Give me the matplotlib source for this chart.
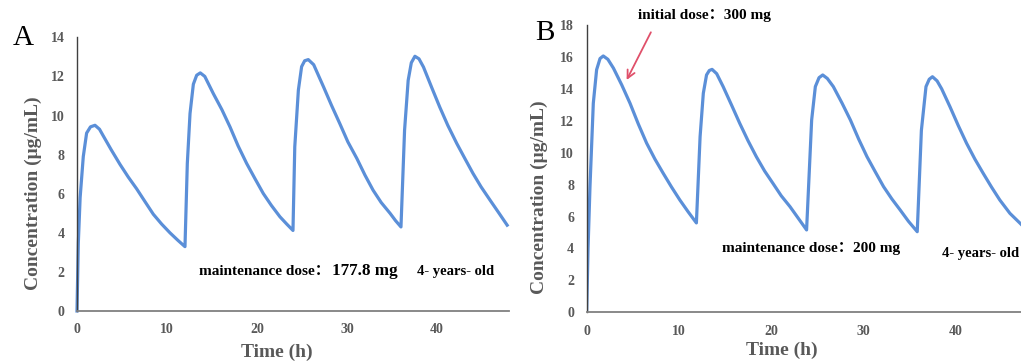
import matplotlib
matplotlib.use("Agg")
import matplotlib.pyplot as plt

# ---------------- data ----------------
time_a = [0, 0.15, 0.35, 0.7, 1.07, 1.5, 2.0, 2.5, 2.93, 3.8, 4.78, 5.7, 6.63, 7.55, 8.48, 9.4, 10.33, 11.2, 12.0,
          12.26, 12.56, 12.93, 13.3, 13.7, 14.2, 15.15, 16.1, 17.0, 17.9, 18.85, 19.8, 20.7, 21.6, 22.55, 23.3, 24.0,
          24.2, 24.6, 24.96, 25.3, 25.7, 26.3, 27.4, 28.3, 29.2, 30.1, 31.1, 32.0, 32.9, 33.8, 34.8, 35.4, 36.0,
          36.4, 36.8, 37.15, 37.55, 38.0, 38.5, 39.4, 40.3, 41.2, 42.2, 43.1, 44.0, 44.9, 45.9, 46.9, 47.8]
conc_a = [0, 3.5, 5.8, 7.9, 9.1, 9.42, 9.5, 9.3, 8.95, 8.25, 7.5, 6.85, 6.25, 5.6, 4.95, 4.45, 4.0, 3.62, 3.29,
          7.55, 10.1, 11.6, 12.06, 12.18, 12.0, 11.12, 10.3, 9.42, 8.45, 7.55, 6.75, 6.01, 5.4, 4.82, 4.45, 4.12,
          8.4, 11.3, 12.5, 12.8, 12.86, 12.6, 11.46, 10.5, 9.59, 8.65, 7.8, 6.95, 6.18, 5.55, 4.99, 4.62, 4.3,
          9.25, 11.8, 12.7, 13.03, 12.9, 12.48, 11.45, 10.44, 9.5, 8.57, 7.8, 7.04, 6.35, 5.67, 5.0, 4.39]

time_b = [0, 0.15, 0.36, 0.72, 1.08, 1.45, 1.8, 2.3, 2.9, 3.8, 4.7, 5.6, 6.5, 7.4, 8.3, 9.2, 10.1, 11.0, 11.9,
          12.3, 12.65, 13.0, 13.3, 13.6, 14.1, 14.8, 15.7, 16.6, 17.5, 18.4, 19.3, 20.2, 21.1, 22.05, 23.0, 23.85,
          24.4, 24.8, 25.2, 25.6, 26.1, 26.75, 27.7, 28.6, 29.5, 30.4, 31.3, 32.2, 33.1, 34.0, 34.9, 35.85,
          36.3, 36.8, 37.15, 37.5, 38.0, 38.5, 39.4, 40.3, 41.2, 42.1, 43.0, 43.9, 44.8, 45.9, 47.0, 48.0]
conc_b = [0, 4.0, 7.87, 13.1, 15.2, 15.9, 16.06, 15.85, 15.3, 14.25, 13.1, 11.8, 10.6, 9.6, 8.71, 7.85, 7.04, 6.3, 5.6,
          11.0, 13.72, 14.87, 15.15, 15.22, 14.95, 14.14, 13.0, 11.84, 10.75, 9.75, 8.85, 8.08, 7.3, 6.62, 5.85, 5.16,
          12.05, 14.14, 14.7, 14.87, 14.65, 14.14, 13.1, 12.05, 10.85, 9.75, 8.8, 7.87, 7.1, 6.41, 5.7, 5.05,
          11.4, 14.14, 14.6, 14.76, 14.5, 14.0, 12.88, 11.7, 10.59, 9.6, 8.71, 7.85, 7.04, 6.2, 5.58, 5.0]

xticks = [0, 10, 20, 30, 40]
yticks_a = [0, 2, 4, 6, 8, 10, 12, 14]
yticks_b = [0, 2, 4, 6, 8, 10, 12, 14, 16, 18]

# ---------------- styling ----------------
SERIF = ['Liberation Serif', 'DejaVu Serif']
SERIF_CJK = ['Liberation Serif', 'Noto Sans CJK SC', 'DejaVu Serif']
LINE_COLOR = '#5b8fd8'
TICK_COLOR = '#595959'
plt.rcParams['font.family'] = SERIF

fig = plt.figure(figsize=(10.21, 3.63), dpi=100)
ax_a = fig.add_axes([0.0754, 0.1433, 0.4231, 0.7539])
ax_b = fig.add_axes([0.5746, 0.1397, 0.4335, 0.7914])


def style(ax, yticks, xlab_pos, ylab_pos):
    ax.set_xlim(0, 48)
    ax.set_ylim(0, yticks[-1])
    ax.set_xticks(xticks)
    ax.set_yticks(yticks)
    for s in ('top', 'right'):
        ax.spines[s].set_visible(False)
    ax.spines['left'].set_color('#404040')
    ax.spines['left'].set_linewidth(1.0)
    ax.spines['bottom'].set_color('#808080')
    ax.spines['bottom'].set_linewidth(1.3)
    ax.tick_params(length=0, pad=9, labelsize=10, colors=TICK_COLOR)
    for lab in ax.get_xticklabels() + ax.get_yticklabels():
        lab.set_fontweight('bold')
        lab.set_family(SERIF)
    ax.set_xlabel('Time (h)', fontsize=14, fontweight='bold', color=TICK_COLOR)
    ax.set_ylabel('Concentration (μg/mL)', fontsize=14, fontweight='bold', color=TICK_COLOR)
    ax.xaxis.set_label_coords(*xlab_pos)
    ax.yaxis.set_label_coords(*ylab_pos)
    ax.xaxis.label.set_va('center')
    ax.yaxis.label.set_va('center')


ax_a.plot(time_a, conc_a, color=LINE_COLOR, lw=2.3, solid_joinstyle='round', clip_on=False)
ax_b.plot(time_b, conc_b, color=LINE_COLOR, lw=2.3, solid_joinstyle='round')
style(ax_a, yticks_a, (0.463, -0.15), (-0.102, 0.43))
style(ax_b, yticks_b, (0.44, -0.131), (-0.106, 0.40))

# panel letters
fig.text(0.012, 0.895, 'A', fontsize=21, family=SERIF, va='center')
fig.text(0.524, 0.908, 'B', fontsize=21, family=SERIF, va='center')

# annotations panel A
ax_a.text(13.6, 2.04, 'maintenance dose：', fontsize=11, fontweight='bold', family=SERIF_CJK, va='center')
ax_a.text(28.3, 2.04, '177.8 mg', fontsize=12.3, fontweight='bold', family=SERIF, va='center')
ax_a.text(37.8, 2.04, '4- years- old', fontsize=10.5, fontweight='bold', family=SERIF, va='center')

# annotations panel B
ax_b.text(5.6, 18.6, 'initial dose：300 mg', fontsize=11, fontweight='bold', family=SERIF_CJK,
          va='center', clip_on=False)
ax_b.annotate('', xy=(4.2, 14.4), xytext=(7.1, 17.7),
              arrowprops=dict(arrowstyle='->', color='#e0506a', lw=1.3, mutation_scale=14),
              annotation_clip=False)
ax_b.text(14.7, 4.0, 'maintenance dose：200 mg', fontsize=11, fontweight='bold', family=SERIF_CJK, va='center')
ax_b.text(38.5, 3.7, '4- years- old', fontsize=10.5, fontweight='bold', family=SERIF, va='center')

fig.savefig('out.png', dpi=100)
